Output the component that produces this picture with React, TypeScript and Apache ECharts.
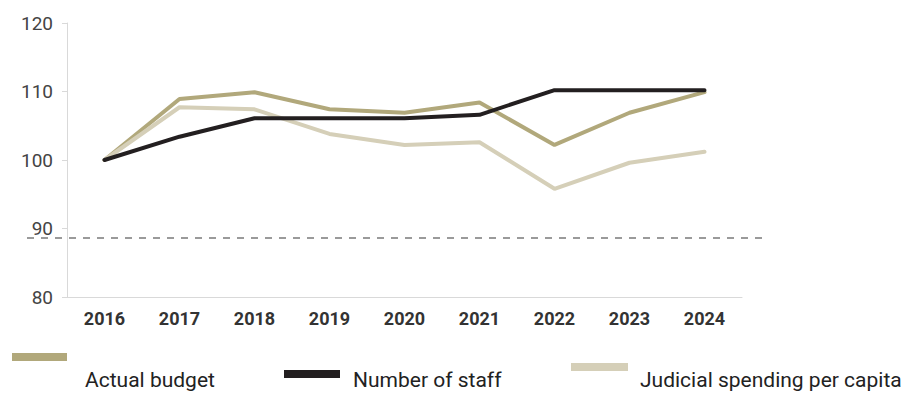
import React, { useEffect, useRef } from "react";
import * as echarts from "echarts";

const years = ["2016", "2017", "2018", "2019", "2020", "2021", "2022", "2023", "2024"];
const actualBudget = [100, 108.9, 109.9, 107.4, 106.9, 108.4, 102.2, 106.9, 109.9];
const numberOfStaff = [100, 103.4, 106.1, 106.1, 106.1, 106.6, 110.2, 110.2, 110.2];
const spendingPerCapita = [100, 107.7, 107.4, 103.8, 102.2, 102.6, 95.8, 99.6, 101.2];
const referenceLevel = 88.6;
const seriesNames = ["Actual budget", "Number of staff", "Judicial spending per capita"];
const colors = ["#b1a87b", "#231f20", "#d5cfb8"];

export default function App() {
  const ref = useRef<HTMLDivElement>(null);
  useEffect(() => {
    if (!ref.current) return;
    const chart = echarts.init(ref.current, null, { renderer: "svg" });
    const font = "Roboto, 'Noto Sans', sans-serif";
    chart.setOption({
      animation: false,
      grid: { left: 67, top: 23, right: 171, bottom: 97 },
      xAxis: {
        type: "category",
        data: years,
        boundaryGap: true,
        axisLine: { lineStyle: { color: "#d9d9d9", width: 1 } },
        axisTick: { show: false },
        axisLabel: { color: "#333", fontSize: 18, fontWeight: "bold", fontFamily: font, margin: 12 },
      },
      yAxis: {
        type: "value",
        min: 80,
        max: 120,
        interval: 10,
        axisLine: { show: true, lineStyle: { color: "#d9d9d9", width: 1 } },
        axisTick: { show: true, length: 5, lineStyle: { color: "#d9d9d9" } },
        splitLine: { show: false },
        axisLabel: { color: "#444", fontSize: 19, fontFamily: font, margin: 14 },
      },
      series: [
        { name: seriesNames[0], data: actualBudget, color: colors[0] },
        { name: seriesNames[1], data: numberOfStaff, color: colors[1] },
        { name: seriesNames[2], data: spendingPerCapita, color: colors[2] },
      ].map((s, i) => ({
        ...s,
        type: "line",
        symbol: "none",
        z: i === 1 ? 3 : 2,
        lineStyle: { width: 4, color: s.color, cap: "round" },
      })),
    });
    const yRef = chart.convertToPixel({ yAxisIndex: 0 }, referenceLevel) as number;
    const legendText = { fontSize: 21, fontFamily: font, fill: "#222", verticalAlign: "middle" };
    chart.setOption({
      graphic: [
        {
          type: "line",
          shape: { x1: 27, y1: yRef, x2: 762, y2: yRef },
          style: { stroke: "#9a9a9a", lineWidth: 2, lineDash: [7, 7] },
          z: 1,
        },
        { type: "rect", shape: { x: 12, y: 353, width: 55, height: 8 }, style: { fill: colors[0] } },
        { type: "text", x: 85, y: 380, style: { text: seriesNames[0], ...legendText } },
        { type: "rect", shape: { x: 284, y: 370, width: 56, height: 8 }, style: { fill: colors[1] } },
        { type: "text", x: 353, y: 380, style: { text: seriesNames[1], ...legendText } },
        { type: "rect", shape: { x: 571, y: 363, width: 57, height: 8 }, style: { fill: colors[2] } },
        { type: "text", x: 640, y: 380, style: { text: seriesNames[2], ...legendText } },
      ],
    });
    return () => chart.dispose();
  }, []);
  return <div ref={ref} style={{ width: 913, height: 394, position: "absolute", left: 0, top: 0 }} />;
}
